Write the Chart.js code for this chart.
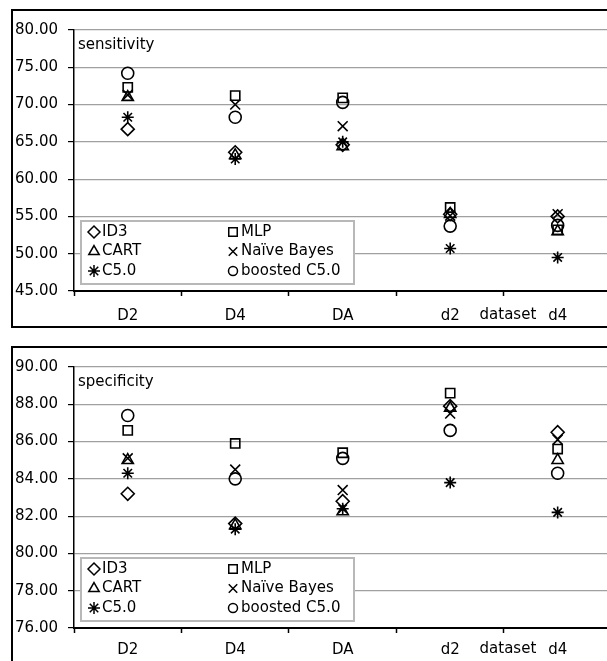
<!DOCTYPE html>
<html>
<head>
<meta charset="utf-8">
<script src="https://cdn.jsdelivr.net/npm/chart.js@4/dist/chart.umd.min.js"></script>
<style>
  body { margin: 0; background: #fff; overflow: hidden; width: 607px; height: 661px; }
  .box { position: absolute; left: 11px; width: 640px; border: 2px solid #000; background: #fff; }
  #box1 { top: 9px; height: 315px; }
  #box2 { top: 346px; height: 330px; }
  canvas { display: block; }
</style>
</head>
<body>
<div class="box" id="box1"><canvas id="grafico1" width="607" height="315"></canvas></div>
<div class="box" id="box2"><canvas id="grafico2" width="607" height="315"></canvas></div>
<script>
const categorias = ['D2', 'D4', 'DA', 'd2', 'd4'];
const modelos = ['ID3', 'MLP', 'CART', 'Naïve Bayes', 'C5.0', 'boosted C5.0'];

// sensitivity
const sensID3 = [66.7, 63.6, 64.6, 55.3, 55.0];
const sensMLP = [72.3, 71.2, 70.9, 56.2, 53.2];
const sensCART = [71.0, 63.2, 64.4, 55.3, 53.0];
const sensNaive = [71.3, 70.0, 67.1, 55.1, 55.3];
const sensC50 = [68.3, 62.7, 65.0, 50.7, 49.5];
const sensBoosted = [74.2, 68.3, 70.3, 53.7, 53.8];
const sensTicks = [45, 50, 55, 60, 65, 70, 75, 80];

// specificity
const specID3 = [83.2, 81.6, 82.8, 87.9, 86.5];
const specMLP = [86.6, 85.9, 85.4, 88.6, 85.6];
const specCART = [85.0, 81.5, 82.25, 87.8, 85.0];
const specNaive = [85.1, 84.5, 83.4, 87.5, 86.1];
const specC50 = [84.3, 81.3, 82.4, 83.8, 82.2];
const specBoosted = [87.4, 84.0, 85.1, 86.6, 84.3];
const specTicks = [76, 78, 80, 82, 84, 86, 88, 90];

const fonte = '"DejaVu Sans", sans-serif';
const estilos = ['rectRot', 'rect', 'triangle', 'crossRot', 'star', 'circle'];
const raios = [6.5, 6.5, 6.5, 7, 6, 6];

// titulo, "dataset" e legenda desenhados dentro da area do grafico
const extras = {
  id: 'extras',
  afterDraw(chart, args, opts) {
    const { ctx, chartArea: a } = chart;
    const xScale = chart.scales.x;
    ctx.save();
    ctx.font = '15px ' + fonte;
    ctx.fillStyle = '#000';
    ctx.textBaseline = 'middle';
    ctx.fillText(opts.titulo, a.left + 4, a.top + 15);
    ctx.textAlign = 'center';
    ctx.fillText('dataset', xScale.getPixelForValue(3.5) + 4, a.bottom + opts.labelGap);

    const lx = a.left + 7;
    const ly = a.bottom - 70;
    ctx.fillStyle = '#fff';
    ctx.fillRect(lx, ly, 273, 63);
    ctx.strokeStyle = '#b8b8b8';
    ctx.lineWidth = 2;
    ctx.strokeRect(lx, ly, 273, 63);

    ctx.textAlign = 'left';
    chart.data.datasets.forEach((ds, i) => {
      const col = i % 2;
      const row = Math.floor(i / 2);
      const mx = lx + (col === 0 ? 13 : 152);
      const my = ly + 11 + row * 19.5;
      ctx.strokeStyle = '#000';
      ctx.fillStyle = 'rgba(0,0,0,0)';
      ctx.lineWidth = 1.5;
      Chart.helpers.drawPoint(ctx, {
        pointStyle: ds.pointStyle,
        radius: ds.pointStyle === 'circle' ? 4.5 : 6,
        rotation: 0,
        borderWidth: 1.5,
      }, mx, my);
      ctx.fillStyle = '#000';
      ctx.fillText(ds.label, mx + 8, my);
    });
    ctx.restore();
  },
};

const montarGrafico = (id, titulo, series, ticks, topo, labelGap, tickPad) => {
  const ctx = document.getElementById(id);
  new Chart(ctx, {
    type: 'line',
    data: {
      labels: categorias,
      datasets: series.map((valores, i) => ({
        label: modelos[i],
        data: valores,
        showLine: false,
        pointStyle: estilos[i],
        pointRadius: raios[i],
        pointHoverRadius: raios[i],
        pointBorderWidth: 1.6,
        borderColor: '#000',
        backgroundColor: 'rgba(0,0,0,0)',
      })),
    },
    options: {
      responsive: false,
      animation: false,
      events: [],
      layout: { padding: { top: topo, right: 5, left: 0, bottom: 0 } },
      plugins: {
        legend: { display: false },
        tooltip: { enabled: false },
        extras: { titulo: titulo, labelGap: labelGap },
      },
      scales: {
        x: {
          offset: true,
          grid: {
            offset: true,
            drawOnChartArea: false,
            tickLength: 5,
            tickColor: '#000',
            tickWidth: 1.5,
          },
          border: { color: '#000', width: 2 },
          ticks: { color: '#000', font: { family: fonte, size: 15 }, padding: tickPad },
          afterFit: (s) => { s.height = 35; },
        },
        y: {
          min: ticks[0],
          max: ticks[ticks.length - 1],
          afterBuildTicks: (s) => { s.ticks = ticks.map((v) => ({ value: v })); },
          grid: { color: '#a0a0a0', lineWidth: 1.2, tickLength: 6, tickColor: '#000' },
          border: { color: '#000', width: 1.5 },
          ticks: {
            color: '#000',
            font: { family: fonte, size: 15 },
            padding: 10,
            callback: (v) => Number(v).toFixed(2),
          },
          afterFit: (s) => { s.width = 61; },
        },
      },
    },
    plugins: [extras],
  });
};

montarGrafico('grafico1', 'sensitivity',
  [sensID3, sensMLP, sensCART, sensNaive, sensC50, sensBoosted], sensTicks, 13, 24, 11);
montarGrafico('grafico2', 'specificity',
  [specID3, specMLP, specCART, specNaive, specC50, specBoosted], specTicks, 12, 21, 8);
</script>
</body>
</html>
